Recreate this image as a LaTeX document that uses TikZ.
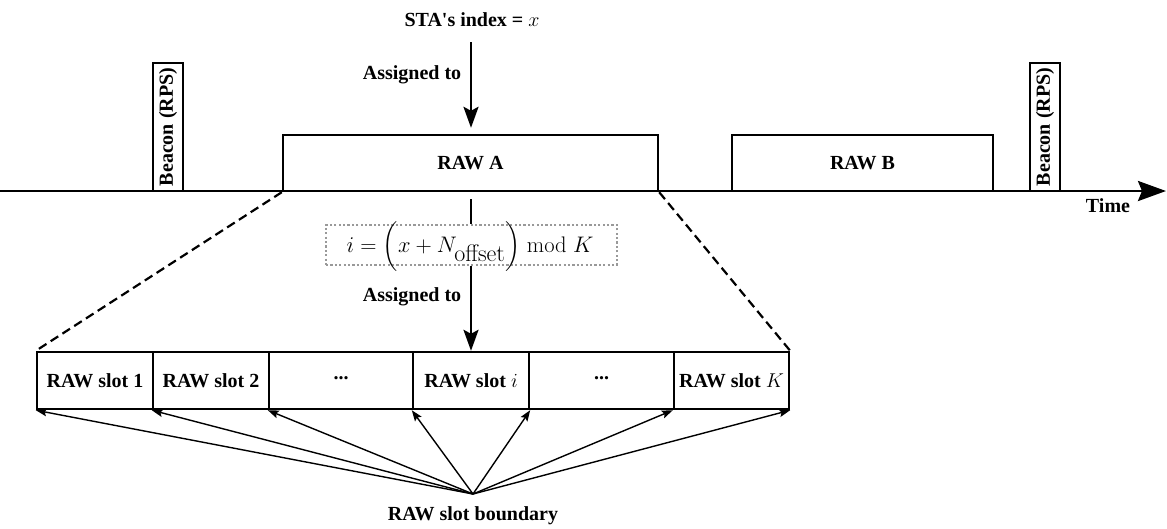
\RequirePackage{fix-cm}
\documentclass[tikz,border=0pt]{standalone}
\usepackage{amsmath}
\usepackage{exscale}
\usepackage[no-math]{fontspec}
\setmainfont{Liberation Serif}
\usetikzlibrary{arrows.meta}
\begin{document}
\begin{tikzpicture}[x=1pt,y=-1pt,
  txt/.style={font=\bfseries\fontsize{20}{23}\selectfont, inner sep=0pt},
  box/.style={txt, draw, line width=2.4pt, minimum height=56pt},
  slotbox/.style={txt, draw, line width=2.4pt, minimum height=57pt},
  beaconbox/.style={draw, line width=2.4pt, inner sep=0pt, minimum width=30pt, minimum height=128pt},
  timeline/.style={line width=2.8pt, -{Stealth[length=28pt, width=20pt, inset=4pt]}},
  bigarrow/.style={line width=2.6pt, -{Stealth[length=21pt, width=15pt, inset=4pt]}},
  thinarrow/.style={line width=1.4pt, -{Stealth[length=11pt, width=8pt, inset=2pt]}},
  zoomline/.style={line width=2.2pt, dash pattern=on 9pt off 5pt},
  formulabox/.style={draw=black!40, line width=2pt, dash pattern=on 2.2pt off 2.2pt,
    inner sep=0pt, minimum width=291pt, minimum height=40pt},
  mathtxt/.style={font=\fontsize{22.5}{24}\selectfont, inner sep=0pt}
]
\useasboundingbox (0,0) rectangle (1167,528);

% time axis
\coordinate (tstart) at (0,191);
\coordinate (tend) at (1166,191);
\draw[timeline] (tstart) -- (tend);
\node[txt] (time) at (1108,206) {Time};

% beacons
\node[beaconbox] (bcn1) at (168,127) {};
\node[txt, rotate=90] (bcn1txt) at (bcn1.center) {Beacon (RPS)};
\node[beaconbox] (bcn2) at (1045,127) {};
\node[txt, rotate=90] (bcn2txt) at (bcn2.center) {Beacon (RPS)};

% RAW periods
\node[box, minimum width=375pt] (rawA) at (470.5,163) {RAW A};
\node[box, minimum width=261pt] (rawB) at (862.5,163) {RAW B};

% station index assignment
\node[txt] (sta) at (472,20) {STA\textquotesingle s index = $x$};
\coordinate (staout) at (471,42);
\draw[bigarrow, shorten >=6pt] (staout) -- (staout |- rawA.north);
\node[txt] (asg1) at (412,75) {Assigned to};

% slot mapping formula
\node[formulabox] (formula) at (471.5,245) {};
\node[mathtxt] (formtxt) at (470,247)
  {$i = \biggl(x + N_{\mbox{\fontsize{24}{26}\selectfont$\mathrm{offset}$}}\biggr) \bmod K$};

% RAW slots
\node[slotbox, minimum width=116pt] (s1) at (95,380.5) {RAW slot 1};
\node[slotbox, minimum width=116pt] (s2) at (211,380.5) {RAW slot 2};
\node[slotbox, minimum width=144pt] (s3) at (341,380.5) {};
\node[slotbox, minimum width=116pt] (si) at (471,380.5) {RAW slot $i$};
\node[slotbox, minimum width=145pt] (s5) at (601.5,380.5) {};
\node[slotbox, minimum width=115pt] (sK) at (731.5,380.5) {RAW slot $K$};
\node[txt, anchor=base] (dots1) at (341,379) {...};
\node[txt, anchor=base] (dots2) at (601.5,379) {...};

\draw[line width=2.6pt, shorten <=7pt] (rawA.south -| staout) -- (staout |- formula.north);
\draw[bigarrow] (staout |- formula.south) -- (staout |- si.north);
\node[txt] (asg2) at (412,297) {Assigned to};

% zoom-in guides
\draw[zoomline] (rawA.south west) -- (s1.north west);
\draw[zoomline] (rawA.south east) -- (sK.north east);

% slot boundaries
\coordinate (bnd) at (473,494);
\node[txt] (bndtxt) at (473,516) {RAW slot boundary};
\foreach \t in {s1.south west, s2.south west, s3.south west, si.south west,
                si.south east, sK.south west, sK.south east}
  \draw[thinarrow] (bnd) -- (\t);
\end{tikzpicture}
\end{document}
